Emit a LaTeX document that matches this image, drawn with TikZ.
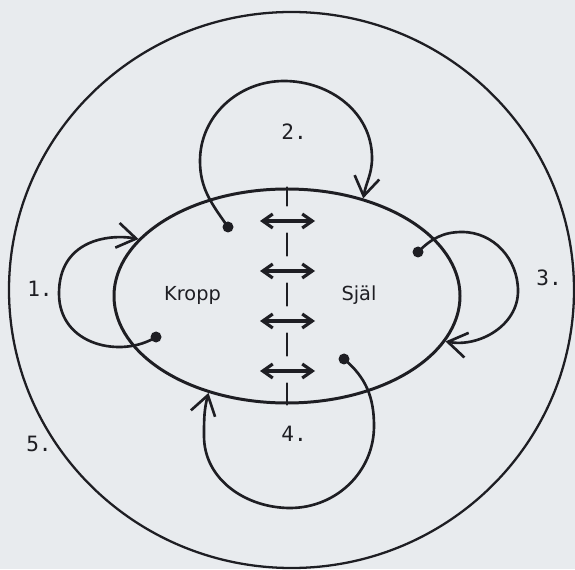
\documentclass[tikz,border=0pt]{standalone}
\usepackage{fontspec}
\newfontfamily\partfont{DejaVu Sans}
\newfontfamily\numfont{DejaVu Sans Mono}
\usetikzlibrary{arrows.meta,shapes.geometric}
\definecolor{paper}{RGB}{232,235,238}
\definecolor{ink}{RGB}{30,30,35}

\begin{document}
\begin{tikzpicture}[color=ink, line width=1.5pt, line cap=round,
    loopline/.style={-{Straight Barb[length=3.8mm,width=5mm]}},
    exchange/.style={{Straight Barb[length=2mm,width=2.8mm]}-{Straight Barb[length=2mm,width=2.8mm]}, line width=1.8pt},
    part/.style={anchor=base, font=\partfont\fontsize{11}{13}\selectfont},
    num/.style={font=\numfont\fontsize{12}{14}\selectfont},
    ring/.style={draw, ellipse, inner sep=0pt}]

    \useasboundingbox (-5.74,-5.46) rectangle (5.76,5.92);
    \fill[paper] (-5.74,-5.46) rectangle (5.76,5.92);
    \clip (-5.74,-5.46) rectangle (5.76,5.92);

    \node[ring, minimum width=11.3cm, minimum height=11.12cm, line width=1.3pt] (world) at (0.09,0.12) {};
    \node[ring, minimum width=6.92cm, minimum height=4.28cm, line width=1.7pt] (self) at (0,0) {};

    % the boundary between body and soul
    \draw[dash pattern=on 0.44cm off 0.56cm, dash phase=0.08cm] (self.north) -- (self.south);
    \foreach \y in {-1.5,-0.5,0.5,1.5}
        \draw[exchange] (-0.54,\y) -- (0.56,\y);

    \node[part] (body) at (-1.89,-0.1) {Kropp};
    \node[part] (soul) at (1.44,-0.1) {Själ};

    \coordinate (k1) at (-2.62,-0.82);
    \coordinate (k2) at (-1.18,1.38);
    \coordinate (k3) at (2.62,0.88);
    \coordinate (k4) at (1.14,-1.26);
    \foreach \k in {k1,k2,k3,k4}
        \fill (\k) circle (0.11);

    \draw[loopline] (k1) .. controls (-3.3,-1.25) and (-4.56,-1.0) .. (-4.56,0.05)
        .. controls (-4.56,1.1) and (-3.6,1.25) .. (self.159);
    \draw[loopline] (k2) to[out=125,in=-90] (-1.74,2.7) to[out=90,in=180] (-0.06,4.3)
        to[out=0,in=90] (1.7,2.76) to[out=-90,in=80] (self.52);
    \draw[loopline] (k3) to[out=45,in=180] (3.5,1.28) to[out=0,in=90] (4.62,0.1)
        to[out=-90,in=-10] (self.-16);
    \draw[loopline] (k4) to[out=-40,in=90] (1.74,-2.6) to[out=-90,in=0] (0.06,-4.24)
        to[out=180,in=-90] (-1.66,-2.8) to[out=90,in=-105] (self.-129);

    \node[num] (n1) at (-4.94,0.15) {1.};
    \node[num] (n2) at (0.14,3.28) {2.};
    \node[num] (n3) at (5.24,0.37) {3.};
    \node[num] (n4) at (0.14,-2.75) {4.};
    \node[num] (n5) at (-4.96,-2.96) {5.};
\end{tikzpicture}
\end{document}
